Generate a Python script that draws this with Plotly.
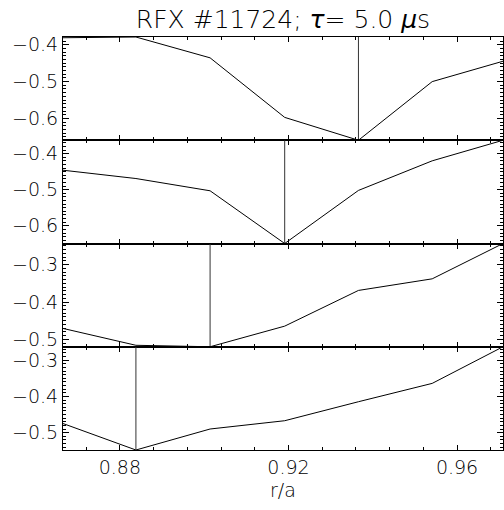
import plotly.graph_objects as go
from plotly.subplots import make_subplots

# r/a positions of the profile points
r_a = [0.8665, 0.8838, 0.9014, 0.9191, 0.9366, 0.9541, 0.9709]

# one profile per panel (top to bottom)
panel1 = [-0.381, -0.379, -0.4355, -0.597, -0.659, -0.500, -0.4447]
panel2 = [-0.446, -0.469, -0.503, -0.649, -0.502, -0.420, -0.363]
panel3 = [-0.4706, -0.5157, -0.5196, -0.4645, -0.369, -0.338, -0.2435]
panel4 = [-0.4747, -0.5477, -0.4898, -0.467, -0.4146, -0.364, -0.263]
panels = [panel1, panel2, panel3, panel4]

y_ticks = [[-0.6, -0.5, -0.4], [-0.6, -0.5, -0.4], [-0.5, -0.4, -0.3], [-0.5, -0.4, -0.3]]
x_ticks = [0.88, 0.92, 0.96]
x_tick_labels = ["0.88", "0.92", "0.96"]

title_text = "RFX #11724; <i>τ</i>= 5.0 <i>μ</i>s"
x_title = "r/a"

FONT = "DejaVu Sans"
W = 200

fig = make_subplots(rows=4, cols=1, shared_xaxes=True, vertical_spacing=0)

for i, vals in enumerate(panels):
    row = i + 1
    fig.add_trace(go.Scatter(x=r_a, y=vals, mode="lines",
                             line=dict(color="black", width=1),
                             showlegend=False, hoverinfo="skip"), row=row, col=1)
    ymin = min(vals)
    ymax = max(vals)
    xmin = r_a[vals.index(ymin)]
    fig.add_trace(go.Scatter(x=[xmin, xmin], y=[ymin, ymax], mode="lines",
                             line=dict(color="#333333", width=1),
                             showlegend=False, hoverinfo="skip"), row=row, col=1)
    fig.update_yaxes(range=[ymin, ymax], tickvals=y_ticks[i],
                     tickformat=".1f", automargin=False,
                     ticks="inside", ticklen=6, tickwidth=1, tickcolor="black",
                     minor=dict(dtick=0.01, tick0=0, ticks="inside", ticklen=3,
                                tickcolor="black", tickwidth=1),
                     showline=True, linecolor="black", linewidth=1, mirror="ticks",
                     showgrid=False, zeroline=False,
                     tickfont=dict(family=FONT, size=19, color="black", weight=W),
                     row=row, col=1)
    fig.update_xaxes(range=[r_a[0], r_a[-1]], tickvals=x_ticks, ticktext=x_tick_labels,
                     automargin=False,
                     ticks="inside", ticklen=5, tickwidth=1, tickcolor="black",
                     minor=dict(dtick=0.008, tick0=0.88, ticks="inside", ticklen=3,
                                tickcolor="black", tickwidth=1),
                     showline=True, linecolor="black", linewidth=1, mirror="ticks",
                     showgrid=False, zeroline=False,
                     showticklabels=(row == 4),
                     tickfont=dict(family=FONT, size=19, color="black", weight=W),
                     row=row, col=1)

fig.update_xaxes(title=dict(text=x_title,
                            font=dict(family=FONT, size=19, color="black", weight=W),
                            standoff=6), row=4, col=1)

fig.update_layout(
    width=504, height=510,
    margin=dict(l=63, r=1, t=37, b=60),
    paper_bgcolor="white", plot_bgcolor="white",
    title=dict(text=title_text, x=283 / 504, xanchor="center",
               y=1 - 19 / 510, yanchor="middle",
               font=dict(family=FONT, size=25, color="black", weight=W)),
)

fig.write_html("out.html", config={"displayModeBar": False},
               post_script="document.body.style.margin='0';document.body.style.padding='0';")
